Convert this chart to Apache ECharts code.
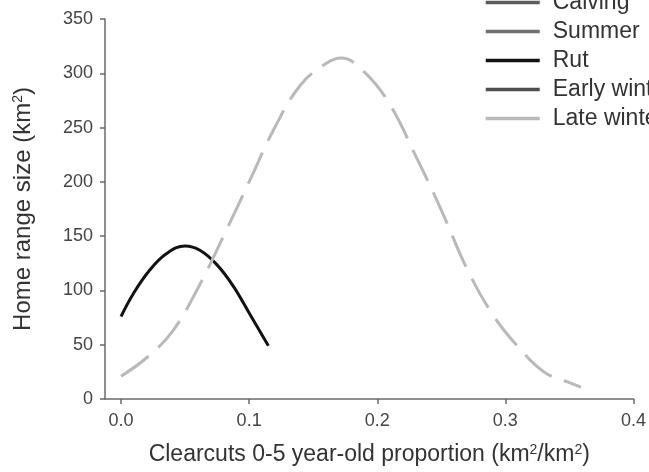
<!DOCTYPE html>
<html>
<head>
<meta charset="utf-8">
<script src="https://cdn.jsdelivr.net/npm/echarts@6/dist/echarts.min.js"></script>
<style>
  html, body { margin: 0; padding: 0; background: #fff; }
  #chart { width: 649px; height: 472px; }
</style>
</head>
<body>
<div id="chart"></div>
<script>
// Seasons shown in the legend
const seasons = ['Calving', 'Summer', 'Rut', 'Early winter', 'Late winter'];

// Rut: home range size vs. proportion of 0-5 year-old clearcuts
const rutX = [0, 0.0096, 0.0226, 0.0356, 0.05, 0.0616, 0.0746, 0.0876, 0.1006, 0.115];
const rutY = [76, 97, 119, 134, 141, 137, 124, 104, 78, 49];

// Late winter
const lateWinterX = [0, 0.02, 0.04, 0.06, 0.08, 0.1, 0.12, 0.14, 0.16, 0.172,
  0.19, 0.21, 0.23, 0.25, 0.27, 0.29, 0.31, 0.33, 0.35, 0.359];
const lateWinterY = [21, 38, 62, 102, 150, 200, 250, 289, 309, 314,
  301, 271, 224, 174, 120, 78, 48, 25, 15, 11];

// Axis ticks
const xTicks = [0, 0.1, 0.2, 0.3, 0.4];
const yTicks = [0, 50, 100, 150, 200, 250, 300, 350];

const pairs = (xs, ys) => xs.map((x, i) => [x, ys[i]]);

const seasonColors = {
  'Calving': '#5c5c5c',
  'Summer': '#707070',
  'Rut': '#111111',
  'Early winter': '#4e4e4e',
  'Late winter': '#b9b9b9'
};

const seriesData = {
  'Rut': pairs(rutX, rutY),
  'Late winter': pairs(lateWinterX, lateWinterY)
};

const axisColor = '#6a6a6a';
const font = 'Liberation Sans, Arial, sans-serif';
const supRich = {
  sup: { fontSize: 14, verticalAlign: 'top', padding: [0, 0, 10, 0], color: '#333', fontFamily: font }
};

const chart = echarts.init(document.getElementById('chart'), null, { renderer: 'canvas' });

chart.setOption({
  animation: false,
  backgroundColor: '#fff',
  grid: { left: 105, right: 15, top: 19, bottom: 73 },
  legend: {
    orient: 'vertical',
    left: 484,
    top: -9,
    padding: 0,
    itemWidth: 54,
    itemHeight: 14,
    itemGap: 6,
    textStyle: { fontSize: 23, lineHeight: 23, color: '#333', fontFamily: font, padding: [0, 0, 0, 8] },
    data: seasons.map(name => ({
      name,
      // plain line sample, no marker
      itemStyle: { opacity: 0, borderWidth: 0 },
      lineStyle: { type: 'solid', width: 3.5, color: seasonColors[name] }
    }))
  },
  xAxis: {
    type: 'value',
    min: -0.0125,
    max: 0.4,
    splitLine: { show: false },
    axisLine: { show: true, onZero: false, lineStyle: { color: axisColor, width: 1.5 } },
    axisTick: { show: true, customValues: xTicks, length: 5, lineStyle: { color: axisColor, width: 1.5 } },
    axisLabel: {
      customValues: xTicks,
      formatter: v => v.toFixed(1),
      fontSize: 18, color: '#444', fontFamily: font, margin: 13
    },
    name: 'Clearcuts 0-5 year-old proportion (km{sup|2}/km{sup|2})',
    nameLocation: 'middle',
    nameGap: 44,
    nameTextStyle: { fontSize: 23, color: '#333', fontFamily: font, rich: supRich }
  },
  yAxis: {
    type: 'value',
    min: 0,
    max: 350,
    interval: 50,
    splitLine: { show: false },
    axisLine: { show: true, onZero: false, lineStyle: { color: axisColor, width: 1.5 } },
    axisTick: { show: true, length: 5, lineStyle: { color: axisColor, width: 1.5 } },
    axisLabel: {
      customValues: yTicks,
      fontSize: 18, color: '#444', fontFamily: font, margin: 12
    },
    name: 'Home range size (km{sup|2})',
    nameLocation: 'middle',
    nameRotate: 90,
    nameGap: 70,
    nameTextStyle: { fontSize: 24, color: '#333', fontFamily: font, rich: supRich }
  },
  series: seasons.map(name => ({
    name,
    type: 'line',
    data: seriesData[name] || [],
    smooth: 0.4,
    symbol: 'none',
    color: seasonColors[name],
    lineStyle: name === 'Late winter'
      ? { color: seasonColors[name], width: 3, type: [34, 13] }
      : { color: seasonColors[name], width: 3 }
  }))
});
</script>
</body>
</html>
